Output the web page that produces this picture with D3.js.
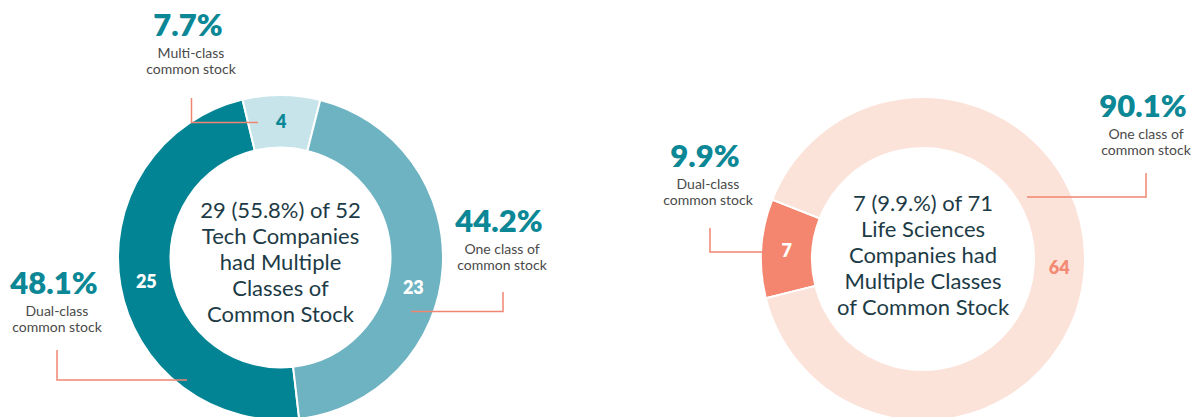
<!DOCTYPE html>
<html>
<head>
<meta charset="utf-8">
<script src="https://cdn.jsdelivr.net/npm/d3@7"></script>
<style>
  body { margin: 0; background: #fff; }
  svg { display: block; font-family: Lato, "Open Sans", sans-serif; }
</style>
</head>
<body>
<svg id="chart" width="1191" height="417"></svg>
<script>
// tech companies
let techCategories = ["Dual-class", "Multi-class", "One class of"];
let techValues = [25, 4, 23];
let techPercents = ["48.1%", "7.7%", "44.2%"];
let techTitle = ["29 (55.8%) of 52", "Tech Companies", "had Multiple", "Classes of", "Common Stock"];

// life sciences companies
let lifeCategories = ["Dual-class", "One class of"];
let lifeValues = [7, 64];
let lifePercents = ["9.9%", "90.1%"];
let lifeTitle = ["7 (9.9.%) of 71", "Life Sciences", "Companies had", "Multiple Classes", "of Common Stock"];

let subLine = "common stock";

let teal = '#0b8796';
let lineColor = '#f08672';

let svg = d3.select('#chart');

let charts = [
  {
    cats: techCategories, vals: techValues, pcts: techPercents, title: techTitle,
    cx: 280.5, cy: 257.5, rOut: 162.5, rIn: 110, start: 173.4, titleShift: 5,
    fills: ['#038494', '#c6e4ea', '#6db3c2'],
    numColors: ['#fff', teal, '#fff'],
    numShift: [0, 0, 9],
    callouts: [
      {tx: 54, ty: 294, pts: [[57, 350], [57, 380], [187, 380]]},
      {tx: 188, ty: 36, pts: [[191.5, 98], [191.5, 122.5], [258, 122.5]]},
      {tx: 499, ty: 232, pts: [[503, 292], [503, 311.5], [411, 311.5]]}
    ]
  },
  {
    cats: lifeCategories, vals: lifeValues, pcts: lifePercents, title: lifeTitle,
    cx: 923, cy: 259, rOut: 162, rIn: 111, start: 256, titleShift: -4,
    fills: ['#f4866f', '#fce3da'],
    numColors: ['#fff', '#f38a74'],
    numShift: [0, 0],
    callouts: [
      {tx: 705, ty: 167, pts: [[710, 228], [710, 252], [763, 252]]},
      {tx: 1143, ty: 117, pts: [[1146, 173], [1146, 197], [1027, 197]]}
    ]
  }
];

function drawDonut(c){
  let g = svg.append('g').attr('transform', `translate(${c.cx},${c.cy})`);
  let a0 = c.start * Math.PI / 180;
  let pie = d3.pie().sort(null).startAngle(a0).endAngle(a0 + 2 * Math.PI);
  let arcs = pie(c.vals);
  let arc = d3.arc().innerRadius(c.rIn).outerRadius(c.rOut);
  let mid = (c.rIn + c.rOut) / 2;

  g.selectAll('path')
    .data(arcs)
    .enter()
    .append('path')
    .attr('d', arc)
    .attr('fill', (d, i) => c.fills[i])
    .attr('stroke', '#fff')
    .attr('stroke-width', 2);

  g.selectAll('text.num')
    .data(arcs)
    .enter()
    .append('text')
    .attr('class', 'num')
    .attr('x', (d, i) => {
      let a = (d.startAngle + d.endAngle) / 2 + c.numShift[i] * Math.PI / 180;
      return mid * Math.sin(a);
    })
    .attr('y', (d, i) => {
      let a = (d.startAngle + d.endAngle) / 2 + c.numShift[i] * Math.PI / 180;
      return -mid * Math.cos(a);
    })
    .attr('dy', '0.36em')
    .attr('text-anchor', 'middle')
    .attr('font-size', 18)
    .attr('font-weight', 800)
    .attr('fill', (d, i) => c.numColors[i])
    .text(d => d.data);

  // center title
  let lh = 26;
  let t0 = c.titleShift - lh * (c.title.length - 1) / 2;
  g.selectAll('text.title')
    .data(c.title)
    .enter()
    .append('text')
    .attr('class', 'title')
    .attr('x', 0)
    .attr('y', (d, i) => t0 + i * lh)
    .attr('dy', '0.35em')
    .attr('text-anchor', 'middle')
    .attr('font-size', 22)
    .attr('fill', '#1d3b46')
    .text(d => d);

  // callouts
  c.callouts.forEach((co, i) => {
    svg.append('path')
      .attr('d', d3.line()(co.pts))
      .attr('fill', 'none')
      .attr('stroke', lineColor)
      .attr('stroke-width', 1.5);
    svg.append('text')
      .attr('x', co.tx).attr('y', co.ty)
      .attr('text-anchor', 'middle')
      .attr('font-size', 31)
      .attr('font-weight', 800)
      .attr('fill', teal)
      .text(c.pcts[i]);
    svg.append('text')
      .attr('x', co.tx + 3).attr('y', co.ty + 22)
      .attr('text-anchor', 'middle')
      .attr('font-size', 14)
      .attr('fill', '#4a4a4a')
      .text(c.cats[i]);
    svg.append('text')
      .attr('x', co.tx + 3).attr('y', co.ty + 38)
      .attr('text-anchor', 'middle')
      .attr('font-size', 14)
      .attr('fill', '#4a4a4a')
      .text(subLine);
  });
}

charts.forEach(drawDonut);
</script>
</body>
</html>
